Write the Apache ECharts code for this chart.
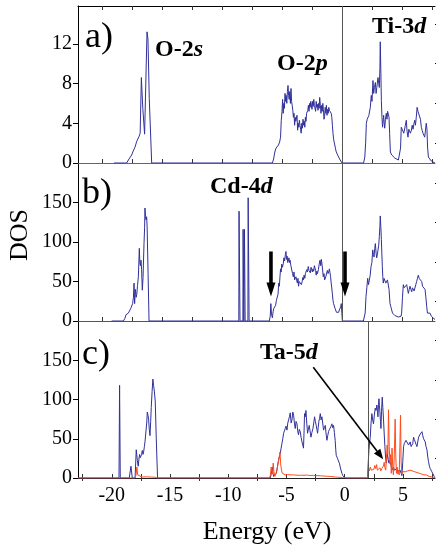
<!DOCTYPE html>
<html><head><meta charset="utf-8">
<script src="https://cdn.jsdelivr.net/npm/echarts@6/dist/echarts.min.js"></script>
<style>html,body{margin:0;padding:0;background:#fff}#c{width:436px;height:549px}</style>
</head><body><div id="c"></div>
<script>
// ---------- tick values / labels ----------
const xTickVals = [-22.5,-20,-17.5,-15,-12.5,-10,-7.5,-5,-2.5,0,2.5,5,7.5];
const xTickValsAB = [-20,-17.5,-15,-12.5,-10,-7.5,-5,-2.5,0,2.5,5,7.5];
const xMinorC = [-22.5,-17.5,-12.5,-7.5,-2.5,2.5,7.5];
const xLabels = [-20,-15,-10,-5,0,5];
const yTicksA = [0,4,8,12];
const yMinorA = [2,6,10,14];
const yTicksBC = [0,50,100,150];
const yMinorBC = [25,75,125,175];
const fermiAB = 0;     // vertical line, panels a,b
const gapEdgeC = 2;    // vertical line, panel c

// ---------- panel a: TiO2 total DOS ----------
const dosA = [[-19.0,0],[-17.95,0],[-17.75,0.4],[-17.53,0.8],[-17.4,1.2],[-17.25,1.6],[-17.1,2.2],[-17.0,2.4],[-16.9,2.7],[-16.82,3.0],[-16.72,8.6],[-16.6,5.5],[-16.45,2.9],[-16.25,13.2],[-16.17,12.5],[-16.06,6.5],[-15.86,0],
[-5.8,0],[-5.7,0.4],[-5.6,1.1],[-5.5,1.5],[-5.4,1.7],[-5.3,1.8],[-5.2,2.1],[-5.12,2.6],[-5.06,4.3],[-5.0,5.2],[-4.95,6.4],[-4.9,5.0],[-4.85,6.0],[-4.8,5.5],[-4.75,7.0],[-4.7,6.2],[-4.65,6.8],[-4.6,6.0],[-4.55,7.2],[-4.5,7.8],[-4.45,6.8],[-4.4,6.4],[-4.35,7.2],[-4.3,6.0],[-4.25,7.5],[-4.2,6.2],[-4.15,5.8],[-4.1,5.3],[-4.05,4.6],[-4.0,5.0],[-3.95,3.8],[-3.9,4.6],[-3.85,4.2],[-3.8,4.0],[-3.75,4.8],[-3.7,3.3],[-3.65,4.0],[-3.6,3.6],[-3.55,4.3],[-3.5,3.8],[-3.45,3.4],[-3.4,3.0],[-3.35,4.0],[-3.3,3.5],[-3.25,4.4],[-3.2,3.8],[-3.15,4.2],[-3.1,3.6],[-3.05,4.6],[-3.0,4.2],[-2.95,5.0],[-2.9,4.8],[-2.85,5.3],[-2.8,5.8],[-2.75,5.2],[-2.7,6.0],[-2.65,5.6],[-2.6,6.2],[-2.55,6.0],[-2.5,5.4],[-2.45,6.2],[-2.4,5.7],[-2.35,6.4],[-2.3,5.8],[-2.25,6.0],[-2.2,5.2],[-2.15,6.2],[-2.1,5.6],[-2.05,5.9],[-2.0,5.3],[-1.95,6.0],[-1.9,5.5],[-1.86,6.6],[-1.8,5.8],[-1.75,5.0],[-1.7,5.8],[-1.65,5.2],[-1.6,6.0],[-1.55,5.4],[-1.5,4.4],[-1.45,4.7],[-1.4,5.6],[-1.35,5.0],[-1.3,5.8],[-1.25,4.8],[-1.2,5.4],[-1.15,5.0],[-1.1,5.6],[-1.05,5.3],[-1.0,5.2],[-0.95,5.4],[-0.9,5.0],[-0.85,4.6],[-0.8,3.8],[-0.75,3.0],[-0.7,2.4],[-0.65,2.1],[-0.6,1.9],[-0.55,1.5],[-0.5,1.2],[-0.45,1.0],[-0.4,0.9],[-0.3,0.7],[-0.2,0.4],[-0.1,0.2],[0,0],
[1.8,0],[1.9,0.6],[1.97,2.0],[2.03,4.0],[2.1,4.4],[2.17,4.2],[2.24,4.8],[2.3,5.0],[2.36,5.6],[2.44,6.8],[2.5,6.2],[2.58,8.3],[2.64,7.0],[2.7,7.6],[2.78,8.1],[2.84,7.0],[2.9,7.6],[3.0,8.6],[3.06,8.0],[3.11,7.6],[3.16,9.5],[3.19,12.2],[3.24,9.0],[3.28,6.3],[3.33,4.6],[3.38,3.6],[3.44,4.4],[3.47,4.8],[3.52,4.0],[3.56,3.5],[3.62,4.4],[3.69,5.0],[3.75,4.4],[3.8,5.2],[3.86,5.4],[3.92,4.6],[3.97,3.0],[4.03,1.1],[4.15,0.8],[4.25,0.6],[4.4,0.5],[4.53,0.4],[4.7,0.3],[4.82,0.3],[4.88,1.5],[4.94,3.6],[5.0,3.4],[5.08,3.8],[5.15,3.0],[5.22,3.1],[5.28,3.8],[5.36,4.3],[5.42,3.2],[5.5,2.6],[5.57,3.4],[5.64,3.6],[5.7,3.0],[5.78,3.3],[5.85,3.8],[5.92,3.4],[6.0,4.0],[6.06,4.3],[6.12,3.8],[6.19,4.6],[6.26,5.6],[6.33,5.2],[6.4,5.4],[6.47,5.0],[6.54,4.4],[6.61,3.6],[6.68,3.3],[6.75,3.0],[6.82,2.8],[6.89,2.6],[6.95,3.2],[7.02,4.0],[7.08,3.4],[7.13,1.6],[7.2,0.6],[7.3,0.4],[7.44,0.2],[7.6,0.1],[7.75,0]];

// ---------- panel b: Cd-doped total DOS ----------
const dosB = [[-19.2,0],[-18.22,0],[-18.1,3],[-18.0,8],[-17.9,6],[-17.8,10],[-17.7,12],[-17.6,16],[-17.53,18],[-17.45,22],[-17.38,30],[-17.33,48],[-17.28,22],[-17.22,40],[-17.15,30],[-17.1,34],[-17.04,45],[-16.97,56],[-16.89,92],[-16.84,73],[-16.8,70],[-16.75,77],[-16.7,65],[-16.64,39],[-16.58,55],[-16.5,98],[-16.45,118],[-16.42,143],[-16.37,132],[-16.33,128],[-16.28,132],[-16.24,120],[-16.16,60],[-16.08,0],
[-8.6,0],[-8.58,139],[-8.52,139],[-8.5,0],[-8.26,0],[-8.24,116],[-8.2,116],[-8.18,0],[-8.15,0],[-8.13,116],[-8.09,116],[-8.07,0],[-7.84,0],[-7.82,156],[-7.76,156],[-7.74,0],
[-6.06,0],[-5.98,6],[-5.93,22],[-5.87,8],[-5.8,4],[-5.74,12],[-5.68,16],[-5.6,14],[-5.53,20],[-5.47,26],[-5.4,24],[-5.33,34],[-5.27,48],[-5.22,44],[-5.17,56],[-5.12,66],[-5.07,62],[-5.02,72],[-4.96,68],[-4.89,73],[-4.84,80],[-4.78,76],[-4.72,84],[-4.67,88],[-4.62,78],[-4.57,82],[-4.52,74],[-4.47,73],[-4.42,80],[-4.37,74],[-4.33,77],[-4.26,70],[-4.19,69],[-4.12,60],[-4.06,56],[-4.0,62],[-3.95,52],[-3.9,50],[-3.84,56],[-3.78,52],[-3.72,48],[-3.67,54],[-3.62,44],[-3.56,50],[-3.5,48],[-3.44,52],[-3.38,46],[-3.32,50],[-3.27,55],[-3.22,52],[-3.16,58],[-3.1,54],[-3.05,60],[-3.0,58],[-2.94,65],[-2.88,62],[-2.81,69],[-2.75,64],[-2.7,66],[-2.64,61],[-2.58,68],[-2.53,67],[-2.47,62],[-2.42,66],[-2.36,63],[-2.3,70],[-2.25,69],[-2.2,64],[-2.15,58],[-2.1,63],[-2.04,60],[-1.97,65],[-1.9,72],[-1.83,77],[-1.77,70],[-1.72,78],[-1.66,71],[-1.6,62],[-1.56,56],[-1.5,60],[-1.45,52],[-1.4,50],[-1.35,56],[-1.28,58],[-1.22,64],[-1.16,60],[-1.1,63],[-1.05,66],[-1.0,61],[-0.95,56],[-0.9,48],[-0.86,43],[-0.8,34],[-0.75,26],[-0.7,22],[-0.64,20],[-0.58,16],[-0.52,14],[-0.46,11],[-0.4,10],[-0.34,12],[-0.28,11],[-0.22,14],[-0.17,14],[-0.11,18],[-0.06,22],[0.03,0],
[1.78,0],[1.86,2],[1.93,10],[2.0,31],[2.07,42],[2.14,54],[2.21,46],[2.28,48],[2.35,58],[2.42,69],[2.49,74],[2.56,90],[2.62,84],[2.67,81],[2.73,92],[2.78,98],[2.84,86],[2.89,80],[2.95,84],[3.0,90],[3.06,96],[3.11,107],[3.16,120],[3.19,133],[3.24,118],[3.28,103],[3.32,86],[3.36,69],[3.4,56],[3.44,48],[3.5,54],[3.58,52],[3.65,48],[3.72,46],[3.79,52],[3.86,54],[3.92,40],[4.0,22],[4.07,18],[4.14,14],[4.21,10],[4.28,8],[4.4,7],[4.56,6],[4.7,5],[4.83,4],[4.92,6],[4.97,10],[5.04,30],[5.11,46],[5.18,42],[5.25,40],[5.32,44],[5.39,46],[5.46,40],[5.53,35],[5.6,40],[5.67,44],[5.74,40],[5.81,37],[5.87,42],[5.94,44],[6.01,38],[6.08,40],[6.15,46],[6.22,50],[6.29,54],[6.36,58],[6.43,54],[6.5,56],[6.57,52],[6.64,50],[6.71,44],[6.78,46],[6.85,42],[6.92,40],[6.99,30],[7.06,18],[7.12,10],[7.19,8],[7.26,9],[7.33,10],[7.45,6],[7.56,4],[7.66,3],[7.75,2]];

// ---------- panel c: Ta-doped total DOS (blue) ----------
const dosC = [[-22.9,0],[-19.38,0],[-19.33,118],[-19.27,0],[-18.5,0],[-18.35,15],[-18.24,0],[-18.0,0],[-17.9,36],[-17.8,22],[-17.73,15],[-17.67,24],[-17.61,30],[-17.55,26],[-17.5,24],[-17.44,30],[-17.38,35],[-17.32,30],[-17.27,33],[-17.2,40],[-17.15,46],[-17.07,47],[-17.0,70],[-16.95,84],[-16.89,80],[-16.84,75],[-16.78,62],[-16.72,54],[-16.66,72],[-16.61,90],[-16.54,110],[-16.47,126],[-16.41,118],[-16.35,111],[-16.27,98],[-16.18,50],[-16.07,0],
[-6.39,0],[-6.3,6],[-6.22,14],[-6.16,6],[-6.11,2],[-6.0,3],[-5.88,6],[-5.8,12],[-5.74,18],[-5.68,23],[-5.6,28],[-5.54,31],[-5.46,38],[-5.39,44],[-5.32,50],[-5.25,57],[-5.18,60],[-5.11,63],[-5.04,66],[-4.96,61],[-4.89,70],[-4.82,74],[-4.75,78],[-4.68,83],[-4.6,70],[-4.53,74],[-4.46,84],[-4.39,80],[-4.32,70],[-4.25,63],[-4.18,72],[-4.1,69],[-4.04,60],[-3.97,55],[-3.9,62],[-3.82,59],[-3.75,52],[-3.67,46],[-3.6,42],[-3.54,38],[-3.49,60],[-3.45,82],[-3.39,78],[-3.33,86],[-3.26,70],[-3.19,57],[-3.12,62],[-3.05,67],[-2.98,60],[-2.9,52],[-2.82,58],[-2.73,63],[-2.66,70],[-2.59,78],[-2.52,72],[-2.45,67],[-2.39,62],[-2.33,57],[-2.28,64],[-2.22,72],[-2.16,76],[-2.1,82],[-2.03,74],[-1.96,78],[-1.89,70],[-1.82,61],[-1.75,64],[-1.67,67],[-1.6,56],[-1.53,48],[-1.46,54],[-1.39,59],[-1.31,62],[-1.24,63],[-1.17,66],[-1.1,69],[-1.03,64],[-0.96,67],[-0.89,58],[-0.82,48],[-0.77,36],[-0.73,29],[-0.67,27],[-0.62,25],[-0.56,24],[-0.5,23],[-0.44,18],[-0.39,14],[-0.3,9],[-0.24,6],[-0.17,3],[-0.1,1.7],[0.04,0],
[1.96,0],[2.02,20],[2.08,36],[2.14,46],[2.19,52],[2.26,70],[2.33,82],[2.4,74],[2.47,69],[2.54,80],[2.62,89],[2.69,86],[2.76,93],[2.81,86],[2.85,78],[2.9,94],[2.94,101],[2.98,92],[3.02,84],[3.07,72],[3.11,63],[3.16,85],[3.22,103],[3.27,90],[3.33,74],[3.39,56],[3.45,40],[3.5,28],[3.56,19],[3.62,25],[3.67,31],[3.73,24],[3.79,19],[3.85,22],[3.91,23],[3.98,16],[4.05,10],[4.12,12],[4.19,14],[4.26,10],[4.33,8],[4.4,10],[4.48,12],[4.55,8],[4.62,6],[4.69,8],[4.76,10],[4.84,6],[4.91,3],[4.98,20],[5.05,40],[5.12,44],[5.19,46],[5.26,48],[5.34,50],[5.41,46],[5.48,42],[5.55,44],[5.62,46],[5.7,40],[5.77,38],[5.84,44],[5.91,52],[5.98,49],[6.05,46],[6.12,43],[6.2,40],[6.27,46],[6.34,52],[6.41,54],[6.48,56],[6.55,57],[6.63,59],[6.7,54],[6.77,50],[6.84,48],[6.91,46],[6.98,40],[7.06,36],[7.12,28],[7.19,21],[7.27,15],[7.34,12],[7.41,10],[7.48,8],[7.58,5],[7.68,2],[7.75,0]];

// ---------- panel c: Ta-5d partial DOS (red) ----------
const dosTa = [[-22.9,0],[-18.0,0],[-17.92,4],[-17.84,14],[-17.78,4],[-17.7,1.5],[-17.4,1.2],[-17.0,1.5],[-16.6,1.2],[-16.3,1],[-16.1,0],
[-6.45,0],[-6.38,4],[-6.31,14],[-6.26,8],[-6.2,5],[-6.14,19],[-6.08,8],[-6.0,2],[-5.92,3],[-5.85,8],[-5.78,14],[-5.7,20],[-5.63,26],[-5.56,33],[-5.5,18],[-5.43,10],[-5.36,6],[-5.28,4],[-5.2,5],[-5.1,4],[-5.0,3.5],[-4.9,4.5],[-4.8,3.5],[-4.7,4],[-4.6,3],[-4.5,4],[-4.4,3.2],[-4.3,3.8],[-4.2,3],[-4.1,3.6],[-4.0,2.8],[-3.9,3.4],[-3.8,3],[-3.7,3.6],[-3.6,2.8],[-3.5,3.4],[-3.4,3],[-3.3,3.8],[-3.2,3],[-3.1,3.4],[-3.0,2.6],[-2.9,3.2],[-2.8,2.8],[-2.7,3.4],[-2.6,2.6],[-2.5,3],[-2.4,2.6],[-2.3,3],[-2.2,2.4],[-2.1,2.8],[-2.0,2.2],[-1.9,2.6],[-1.8,2],[-1.7,2.4],[-1.6,1.8],[-1.5,2.2],[-1.4,1.8],[-1.3,2],[-1.2,1.6],[-1.1,1.8],[-1.0,1.4],[-0.8,1.2],[-0.6,1],[-0.4,0.8],[-0.2,0.6],[0.1,0.3],[0.3,0],
[1.95,0],[2.0,8],[2.06,12],[2.12,9],[2.2,14],[2.28,10],[2.35,12],[2.42,8],[2.5,11],[2.58,16],[2.66,12],[2.74,17],[2.8,10],[2.88,12],[2.95,8],[3.02,13],[3.1,9],[3.18,12],[3.25,10],[3.32,15],[3.39,20],[3.45,13],[3.52,10],[3.58,24],[3.64,42],[3.7,30],[3.76,87],[3.82,40],[3.88,18],[3.94,30],[4.0,6],[4.06,38],[4.12,14],[4.18,4],[4.24,22],[4.29,50],[4.33,75],[4.38,30],[4.44,6],[4.5,14],[4.56,5],[4.62,10],[4.68,4],[4.74,45],[4.79,80],[4.84,22],[4.9,5],[4.96,8],[5.03,6],[5.1,7],[5.2,8],[5.3,7],[5.4,9],[5.5,8],[5.6,10],[5.7,8],[5.8,9],[5.9,7],[6.0,8],[6.1,9],[6.2,7],[6.3,8],[6.4,6],[6.5,7],[6.6,5],[6.7,6],[6.8,4],[6.9,5],[7.0,4],[7.1,3],[7.25,2],[7.4,1.5],[7.6,1],[7.75,0.5]];

// ---------- styling ----------
const FONT = '"Liberation Serif", "Times New Roman", serif';
const BLUE = '#30309a', RED = '#ff4a1c';
const G = {left:78, width:357};

function xAx(grid, min, max, opts) {
  return Object.assign({
    type:'value', gridIndex:grid, min:min, max:max, position:'bottom',
    axisLine:{show:true, onZero:false, lineStyle:{color:'#666', width:1}},
    axisTick:{show:true, inside:true, length:4, customValues:xTickValsAB, lineStyle:{color:'#333'}},
    axisLabel:{show:false}, splitLine:{show:false}
  }, opts || {});
}
function yAx(grid, max, major) {
  return {type:'value', gridIndex:grid, min:0, max:max,
    axisLine:{show:true, onZero:false, lineStyle:{color:'#000', width:1}},
    axisTick:{show:true, inside:false, length:5, customValues:major, lineStyle:{color:'#000'}},
    axisLabel:{show:true, customValues:major, margin:6, color:'#000', fontFamily:FONT, fontSize:20},
    splitLine:{show:false}};
}
function yMinor(grid, max, minor) {
  return {type:'value', gridIndex:grid, min:0, max:max,
    axisLine:{show:false, onZero:false},
    axisTick:{show:true, inside:false, length:3, customValues:minor, lineStyle:{color:'#000'}},
    axisLabel:{show:false}, splitLine:{show:false}};
}
function vline(v) {
  return {silent:true, symbol:['none','none'], label:{show:false},
    lineStyle:{color:'#555', width:1, type:'solid'}, data:[{xAxis:v}], animation:false};
}

const chart = echarts.init(document.getElementById('c'), null, {renderer:'canvas'});
chart.setOption({
  animation:false,
  backgroundColor:'#fff',
  textStyle:{fontFamily:FONT},
  grid:[
    {left:G.left, width:G.width, top:6, height:157},
    {left:G.left, width:G.width, top:163, height:158},
    {left:G.left, width:G.width, top:321, height:157}
  ],
  xAxis:[
    xAx(0, -22, 7.75),
    xAx(0, -22, 7.75, {position:'top', axisLine:{show:true, onZero:false, lineStyle:{color:'#000', width:1}}}),
    xAx(1, -22, 7.75, {axisLine:{show:true, onZero:false, lineStyle:{color:'#555', width:1}}}),
    xAx(2, -22.9, 7.75, {axisLine:{show:true, onZero:false, lineStyle:{color:'#222', width:1}},
      axisTick:{show:true, inside:true, length:4, customValues:xTickVals, lineStyle:{color:'#333'}},
      axisLabel:{show:true, customValues:xLabels, margin:8, color:'#000', fontFamily:FONT, fontSize:20}}),
    xAx(2, -22.9, 7.75, {axisLine:{show:false, onZero:false},
      axisTick:{show:true, inside:false, length:3, customValues:xMinorC, lineStyle:{color:'#333'}}})
  ],
  yAxis:[
    yAx(0, 15.8, yTicksA), yMinor(0, 15.8, yMinorA),
    yAx(1, 200, yTicksBC), yMinor(1, 200, yMinorBC),
    yAx(2, 200, yTicksBC), yMinor(2, 200, yMinorBC)
  ],
  series:[
    {type:'line', xAxisIndex:0, yAxisIndex:0, data:dosA, showSymbol:false, symbol:'none',
      lineStyle:{color:BLUE, width:1}, markLine:vline(fermiAB), z:3},
    {type:'line', xAxisIndex:2, yAxisIndex:2, data:dosB, showSymbol:false, symbol:'none',
      lineStyle:{color:BLUE, width:1}, markLine:vline(fermiAB), z:3},
    {type:'line', xAxisIndex:3, yAxisIndex:4, data:dosC, showSymbol:false, symbol:'none',
      lineStyle:{color:BLUE, width:1}, markLine:vline(gapEdgeC), z:3},
    {type:'line', xAxisIndex:3, yAxisIndex:4, data:dosTa, showSymbol:false, symbol:'none',
      lineStyle:{color:RED, width:1}, z:4}
  ]
});

// ---------- annotations ----------
function rt(x, y, parts, size) {
  const rich = {
    n:{fontSize:size, fontWeight:'bold', fontFamily:FONT, fill:'#000'},
    i:{fontSize:size, fontWeight:'bold', fontStyle:'italic', fontFamily:FONT, fill:'#000'}
  };
  return {type:'text', x:x, y:y, z:10,
    style:{text:'{n|'+parts[0]+'}{i|'+parts[1]+'}', rich:rich, align:'left', verticalAlign:'middle'}};
}
function pt(x, y, text, size) {
  return {type:'text', x:x, y:y, z:10,
    style:{text:text, font:size+'px '+FONT, fontSize:size, fontFamily:FONT, fill:'#000', align:'left', verticalAlign:'middle'}};
}
function arrowHead(p0, p1, len, half) {
  const dx = p1[0]-p0[0], dy = p1[1]-p0[1], L = Math.hypot(dx, dy);
  const ux = dx/L, uy = dy/L, bx = p1[0]-ux*len, by = p1[1]-uy*len;
  return [[p1[0],p1[1]],[bx-uy*half, by+ux*half],[bx+uy*half, by-ux*half]];
}
const els = [];
els.push(pt(85, 38, 'a)', 36));
els.push(pt(82, 194, 'b)', 36));
els.push(pt(82, 355, 'c)', 36));
els.push(rt(155, 50, ['O-2','s'], 24));
els.push(rt(277, 64, ['O-2','p'], 24));
els.push(rt(372, 27, ['Ti-3','d'], 24));
els.push(rt(210, 187, ['Cd-4','d'], 24));
els.push(rt(260, 353, ['Ta-5','d'], 24));
els.push({type:'text', x:20, y:235, rotation:Math.PI/2, z:10,
  style:{text:'DOS', font:'26px '+FONT, fontSize:26, fontFamily:FONT, fill:'#000', align:'center', verticalAlign:'middle'}});
els.push({type:'text', x:267, y:532, z:10,
  style:{text:'Energy (eV)', font:'26px '+FONT, fontSize:26, fontFamily:FONT, fill:'#000', align:'center', verticalAlign:'middle'}});

// thick down arrows in panel b (data coords of panel b)
const bArrows = [[-5.92, 88, 31], [0.25, 88, 31]];
bArrows.forEach(a => {
  const top = chart.convertToPixel({seriesIndex:1}, [a[0], a[1]]);
  const tip = chart.convertToPixel({seriesIndex:1}, [a[0], a[2]]);
  const headLen = 14;
  els.push({type:'rect', z:10, shape:{x:top[0]-1.8, y:top[1], width:3.6, height:(tip[1]-top[1])-headLen+1},
    style:{fill:'#000'}});
  els.push({type:'polygon', z:10, shape:{points:[[tip[0]-4.5, tip[1]-headLen],[tip[0]+4.5, tip[1]-headLen],[tip[0], tip[1]]]},
    style:{fill:'#000'}});
});
// Ta-5d pointer arrow (data coords of panel c)
const taFrom = chart.convertToPixel({seriesIndex:2}, [-2.7, 141]);
const taTo = chart.convertToPixel({seriesIndex:2}, [3.3, 24]);
const head = arrowHead(taFrom, taTo, 10, 4);
const base = [(head[1][0]+head[2][0])/2, (head[1][1]+head[2][1])/2];
els.push({type:'line', z:10, shape:{x1:taFrom[0], y1:taFrom[1], x2:base[0], y2:base[1]},
  style:{stroke:'#000', lineWidth:1.6}});
els.push({type:'polygon', z:10, shape:{points:head}, style:{fill:'#000'}});

chart.setOption({graphic:{elements:els}});
</script>
</body></html>
